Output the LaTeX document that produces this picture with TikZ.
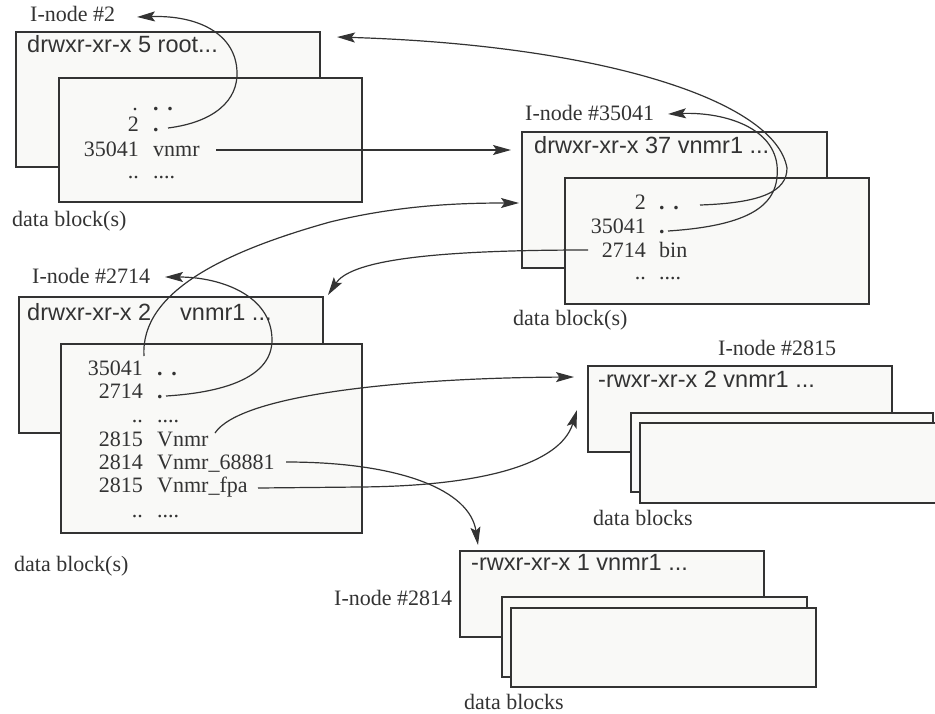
\documentclass[tikz,border=0pt]{standalone}
\usepackage{fontspec}
\setmainfont{Liberation Serif}
\setsansfont{Liberation Sans}
\usetikzlibrary{arrows.meta}
\definecolor{ln}{HTML}{333333}
\definecolor{bf}{HTML}{F9F9F7}
\newcommand{\pdots}{\textbf{.}\hspace{0.4em}\textbf{.}}
\begin{document}
\begin{tikzpicture}[x=1pt,y=-1pt,
  blk/.style={draw=ln,line width=2pt,fill=bf},
  lbl/.style={inner sep=0,anchor=base west,font=\fontsize{22}{24}\selectfont,text=ln},
  num/.style={inner sep=0,anchor=base east,font=\fontsize{22}{24}\selectfont,text=ln},
  hdr/.style={inner sep=0,anchor=base west,font=\sffamily\fontsize{23.5}{26}\selectfont,text=ln},
  link/.style={draw=ln,line width=1.2pt,-{Stealth[length=18pt,width=10pt,inset=3.5pt]}}]
\useasboundingbox (0,0) rectangle (935,713);

% ---------- group 1 : I-node #2
\draw[blk] (16,32) rectangle (320,167);
\draw[blk] (59,78) rectangle (362,202);
\node[lbl] (l1) at (30,21) {I-node \#2};
\node[hdr] (h1) at (27,52) {drwxr-xr-x 5 root...};
\node[num] (a1) at (138,110) {.};
\node[lbl] (b1) at (153,110) {\pdots};
\node[num] (a2) at (139,131) {2};
\node[lbl] (b2) at (153,131) {\textbf{.}};
\node[num] (a3) at (139,156) {35041};
\node[lbl] (b3) at (153,156) {vnmr};
\node[num] (a4) at (139,178) {..};
\node[lbl] (b4) at (153,178) {....};
\node[lbl] (d1) at (12,226) {data block(s)};

% ---------- group 2 : I-node #35041
\draw[blk] (522,132) rectangle (827,268);
\draw[blk] (565,178) rectangle (869,304);
\node[lbl] (l2) at (525,120) {I-node \#35041};
\node[hdr] (h2) at (534,153) {drwxr-xr-x 37 vnmr1 ...};
\node[num] (c1) at (646,209) {2};
\node[lbl] (e1) at (659,209) {\pdots};
\node[num] (c2) at (646,233) {35041};
\node[lbl] (e2) at (659,233) {\textbf{.}};
\node[num] (c3) at (646,257) {2714};
\node[lbl] (e3) at (659,257) {bin};
\node[num] (c4) at (646,279) {..};
\node[lbl] (e4) at (659,279) {....};
\node[lbl] (d2) at (513,325) {data block(s)};

% ---------- group 3 : I-node #2714
\draw[blk] (19,297) rectangle (323,433);
\draw[blk] (61,344) rectangle (362,533);
\node[lbl] (l3) at (32,283) {I-node \#2714};
\node[hdr] (h3) at (27,320) {drwxr-xr-x 2};
\node[hdr] (h3b) at (180,320) {vnmr1 ...};
\node[num] (f1) at (143,375) {35041};
\node[lbl] (g1) at (157,375) {\pdots};
\node[num] (f2) at (143,398) {2714};
\node[lbl] (g2) at (157,398) {\textbf{.}};
\node[num] (f3) at (143,422) {..};
\node[lbl] (g3) at (157,422) {....};
\node[num] (f4) at (143,446) {2815};
\node[lbl] (g4) at (157,446) {Vnmr};
\node[num] (f5) at (143,469) {2814};
\node[lbl] (g5) at (157,469) {Vnmr\_68881};
\node[num] (f6) at (143,492) {2815};
\node[lbl] (g6) at (157,492) {Vnmr\_fpa};
\node[num] (f7) at (143,517) {..};
\node[lbl] (g7) at (157,517) {....};
\node[lbl] (d3) at (14,571) {data block(s)};

% ---------- group 4 : I-node #2815
\draw[blk] (588,366) rectangle (892,452);
\draw[blk] (631,413) rectangle (933,492);
\draw[blk] (640,423) rectangle (942,503);
\node[lbl] (l4) at (718,355) {I-node \#2815};
\node[hdr] (h4) at (598,387) {-rwxr-xr-x 2 vnmr1 ...};
\node[lbl] (d4) at (593,525) {data blocks};

% ---------- group 5 : I-node #2814
\draw[blk] (460,551) rectangle (764,637);
\draw[blk] (502,597) rectangle (807,677);
\draw[blk] (511,608) rectangle (816,687);
\node[lbl] (l5) at (334,605) {I-node \#2814};
\node[hdr] (h5) at (471,570) {-rwxr-xr-x 1 vnmr1 ...};
\node[lbl] (d5) at (464,709) {data blocks};

% ---------- connector end points
\coordinate (s1) at (168,128);  \coordinate (t1) at (137,17);
\coordinate (s2) at (216,150);  \coordinate (t2) at (511,150);
\coordinate (s3) at (700,205);  \coordinate (t3) at (337,37);
\coordinate (s4) at (668,231);  \coordinate (t4) at (668,114);
\coordinate (s5) at (588,250);  \coordinate (t5) at (328,295);
\coordinate (s6) at (144,356);  \coordinate (t6) at (519,203);
\coordinate (s7) at (166,396);  \coordinate (t7) at (165,277);
\coordinate (s8) at (215,433);  \coordinate (t8) at (574,377);
\coordinate (s9) at (286,462);  \coordinate (t9) at (478,545);
\coordinate (s10) at (258,488); \coordinate (t10) at (577,410);

% ---------- connectors
\draw[link] (s1) .. controls (215,122) and (238,100) .. (237,72)
                 .. controls (236,35) and (200,15) .. (t1);
\draw[link] (s2) -- (t2);
\draw[link] (s3) .. controls (760,203) and (787,192) .. (787,168)
                 .. controls (775,100) and (600,45) .. (t3);
\draw[link] (s4) .. controls (760,225) and (780,200) .. (777,165)
                 .. controls (772,125) and (720,112) .. (t4);
\draw[link] (s5) .. controls (420,250) and (350,262) .. (t5);
\draw[link] (s6) .. controls (140,290) and (230,250) .. (330,222)
                 .. controls (400,205) and (460,203) .. (t6);
\draw[link] (s7) .. controls (230,392) and (272,375) .. (272,340)
                 .. controls (272,295) and (220,277) .. (t7);
\draw[link] (s8) .. controls (240,395) and (400,378) .. (t8);
\draw[link] (s9) .. controls (400,462) and (470,490) .. (t9);
\draw[link] (s10) -- (360,487) .. controls (480,486) and (560,465) .. (t10);
\end{tikzpicture}
\end{document}
